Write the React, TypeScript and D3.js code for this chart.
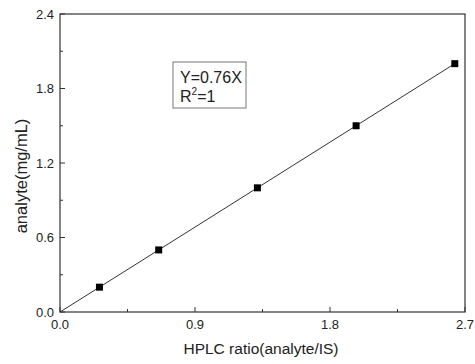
import React from 'react';
import * as d3 from 'd3';

// calibration points
const ratio = [0.263, 0.658, 1.316, 1.974, 2.632];
const analyte = [0.2, 0.5, 1.0, 1.5, 2.0];
const slope = 0.76;
const xTicks = [0, 0.9, 1.8, 2.7];
const yTicks = [0, 0.6, 1.2, 1.8, 2.4];

const W = 475;
const H = 364;
const margin = { top: 14, right: 10, bottom: 52, left: 60 };
const font = 'Arial, "Liberation Sans", sans-serif';

const App: React.FC = () => {
  const x = d3.scaleLinear().domain([0, 2.7]).range([margin.left, W - margin.right]);
  const y = d3.scaleLinear().domain([0, 2.4]).range([H - margin.bottom, margin.top]);
  const x0 = x(0), x1 = x(2.7), y0 = y(0), y1 = y(2.4);

  const xMinor = d3.range(0, 2.7001, 0.45);
  const yMinor = d3.range(0, 2.4001, 0.3);
  const fitEnd = ratio[ratio.length - 1];
  const fit = d3.line<number>().x(d => x(d)).y(d => y(d * slope));

  return (
    <svg width={W} height={H} style={{ position: 'absolute', left: 0, top: 0, background: '#fff' }}>
      <rect x={0} y={0} width={W} height={H} fill="#fff" />
      {/* fit line */}
      <path d={fit([0, fitEnd]) || ''} stroke="#333" strokeWidth={1} fill="none" />
      {ratio.map((r, i) => (
        <rect key={i} x={x(r) - 3.5} y={y(analyte[i]) - 3.5} width={7} height={7} fill="#000" />
      ))}
      {/* frame */}
      <rect x={x0} y={y1} width={x1 - x0} height={y0 - y1} fill="none" stroke="#333" strokeWidth={1.2} />
      {/* ticks */}
      {xMinor.map((t, i) => {
        const major = xTicks.some(v => Math.abs(v - t) < 1e-6);
        return <line key={'x' + i} x1={x(t)} x2={x(t)} y1={y0} y2={y0 - (major ? 5 : 3)} stroke="#333" />;
      })}
      {yMinor.map((t, i) => {
        const major = yTicks.some(v => Math.abs(v - t) < 1e-6);
        return <line key={'y' + i} x1={x0} x2={x0 + (major ? 5 : 3)} y1={y(t)} y2={y(t)} stroke="#333" />;
      })}
      {xTicks.map(t => (
        <text key={'xl' + t} x={x(t)} y={y0 + 17} textAnchor="middle" fontFamily={font} fontSize={13} fill="#222">
          {t.toFixed(1)}
        </text>
      ))}
      {yTicks.map(t => (
        <text key={'yl' + t} x={x0 - 6} y={y(t) + 4.5} textAnchor="end" fontFamily={font} fontSize={13} fill="#222">
          {t.toFixed(1)}
        </text>
      ))}
      <text x={261} y={H - 10} textAnchor="middle" fontFamily={font} fontSize={15.5} fill="#222">
        HPLC ratio(analyte/IS)
      </text>
      <text transform={`translate(27,176) rotate(-90)`} textAnchor="middle" fontFamily={font} fontSize={16.5} fill="#222">
        analyte(mg/mL)
      </text>
      {/* equation box */}
      <rect x={173} y={62} width={73} height={46} fill="#fff" stroke="#777" strokeWidth={1} />
      <text x={180} y={83} fontFamily={font} fontSize={16} fill="#222">Y=0.76X</text>
      <text x={180} y={102} fontFamily={font} fontSize={16} fill="#222">
        R<tspan dy={-7} fontSize={10}>2</tspan><tspan dy={7}>=1</tspan>
      </text>
    </svg>
  );
};

export default App;
